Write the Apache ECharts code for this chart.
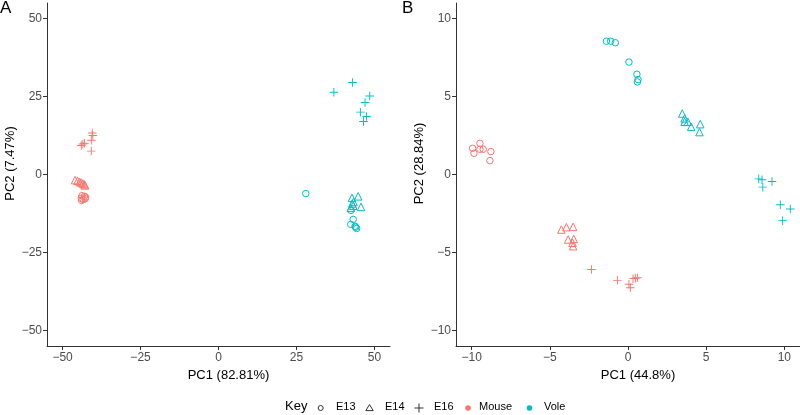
<!DOCTYPE html>
<html><head><meta charset="utf-8">
<script src="https://cdn.jsdelivr.net/npm/echarts@6/dist/echarts.min.js"></script>
<style>html,body{margin:0;padding:0;background:#fff}#c{width:800px;height:415px}</style>
</head><body><div id="c"></div>
<script>
// Tick labels
const ticksA = [-50, -25, 0, 25, 50];
const ticksB = [-10, -5, 0, 5, 10];
const titlesA = ['PC1 (82.81%)', 'PC2 (7.47%)'];
const titlesB = ['PC1 (44.8%)', 'PC2 (28.84%)'];
const stages = ['E13', 'E14', 'E16'];
const species = ['Mouse', 'Vole'];
const colors = {Mouse: '#F8766D', Vole: '#00BFC4'};

// Panel A data [PC1, PC2]
const A_Mouse_E13 = [[-43.8,-6.8],[-43.0,-7.0],[-42.6,-7.3],[-44.0,-7.6],[-43.4,-8.0],[-42.8,-7.8],[-43.9,-8.3]];
const A_Mouse_E14 = [[-46.0,-1.8],[-45.2,-2.0],[-44.5,-2.4],[-44.0,-2.6],[-43.5,-2.9],[-43.0,-3.2],[-42.8,-3.5]];
const A_Mouse_E16 = [[-40.5,13.3],[-40.3,12.5],[-40.8,11.0],[-43.5,9.8],[-44.0,9.3],[-43.0,10.0],[-40.8,7.5]];
const A_Vole_E13 = [[28.0,-6.1],[42.5,-11.5],[43.2,-14.4],[42.4,-16.0],[43.8,-16.6],[44.3,-17.3],[44.0,-16.9]];
const A_Vole_E14 = [[42.8,-7.5],[44.8,-7.0],[45.7,-10.4],[42.9,-9.3],[43.2,-10.0],[42.4,-10.7],[43.3,-8.8]];
const A_Vole_E16 = [[37.0,26.4],[43.0,29.5],[48.5,25.2],[47.0,23.1],[45.5,20.0],[47.5,18.6],[46.5,17.0]];

// Panel B data [PC1, PC2]
const B_Mouse_E13 = [[-9.94,1.68],[-9.85,1.36],[-9.47,2.0],[-9.47,1.62],[-9.26,1.62],[-8.77,1.47],[-8.83,0.89]];
const B_Mouse_E14 = [[-4.26,-3.53],[-3.94,-3.38],[-3.51,-3.36],[-3.83,-4.17],[-3.47,-4.13],[-3.55,-4.38],[-3.51,-4.6]];
const B_Mouse_E16 = [[-2.34,-6.09],[-0.68,-6.79],[0.06,-7.04],[0.15,-7.26],[0.32,-6.68],[0.47,-6.66],[0.6,-6.62]];
const B_Vole_E13 = [[-1.38,8.55],[-1.11,8.55],[-0.81,8.45],[0.06,7.21],[0.57,6.43],[0.64,6.09],[0.6,5.94]];
const B_Vole_E14 = [[3.47,3.91],[3.62,3.6],[3.62,3.38],[3.83,3.38],[4.04,3.06],[4.62,3.23],[4.57,2.72]];
const B_Vole_E16 = [[8.36,-0.28],[8.57,-0.34],[8.62,-0.81],[9.21,-0.45],[9.74,-1.94],[10.38,-2.21],[9.89,-2.96]];

const dataA = {Mouse: {E13: A_Mouse_E13, E14: A_Mouse_E14, E16: A_Mouse_E16}, Vole: {E13: A_Vole_E13, E14: A_Vole_E14, E16: A_Vole_E16}};
const dataB = {Mouse: {E13: B_Mouse_E13, E14: B_Mouse_E14, E16: B_Mouse_E16}, Vole: {E13: B_Vole_E13, E14: B_Vole_E14, E16: B_Vole_E16}};

const PLUS = 'path://M4.45,0H5.55V4.45H10V5.55H5.55V10H4.45V5.55H0V4.45H4.45Z';
const symbols = {E13: 'circle', E14: 'triangle', E16: PLUS};
const sizes = {E13: 6.5, E14: 7.5, E16: 8.5};
const FONT = 'Liberation Sans, Arial, sans-serif';
const minus = v => String(v).replace('-', '\u2212');

function xAxis(gi, lim, ticks, title) {
  return {
    type: 'value', gridIndex: gi, min: -lim, max: lim,
    name: title, nameLocation: 'middle', nameGap: 20,
    nameTextStyle: {color: '#000', fontSize: 13, fontFamily: FONT, padding: [0, 0, 0, 20]},
    axisLine: {show: true, onZero: false, lineStyle: {color: '#333', width: 1}},
    axisTick: {show: true, length: 4, lineStyle: {color: '#333'}, customValues: ticks},
    axisLabel: {color: '#4d4d4d', fontSize: 12, fontFamily: FONT, margin: 6, customValues: ticks, formatter: minus},
    splitLine: {show: false}
  };
}
function yAxis(gi, lim, ticks, title) {
  return {
    type: 'value', gridIndex: gi, min: -lim, max: lim,
    name: title, nameLocation: 'middle', nameGap: 30,
    nameTextStyle: {color: '#000', fontSize: 13, fontFamily: FONT, padding: [0, 0, 0, 22]},
    axisLine: {show: true, onZero: false, lineStyle: {color: '#333', width: 1}},
    axisTick: {show: true, length: 4, lineStyle: {color: '#333'}, customValues: ticks},
    axisLabel: {color: '#4d4d4d', fontSize: 12, fontFamily: FONT, margin: 5, customValues: ticks, formatter: minus},
    splitLine: {show: false}
  };
}

const series = [];
[[dataA, 0], [dataB, 1]].forEach(([d, gi]) => {
  species.forEach(sp => {
    stages.forEach(st => {
      const isPlus = st === 'E16';
      series.push({
        type: 'scatter', name: sp + ' ' + st, xAxisIndex: gi, yAxisIndex: gi,
        data: d[sp][st], symbol: symbols[st], symbolSize: sizes[st],
        itemStyle: isPlus
          ? {color: colors[sp], borderWidth: 0, opacity: 1}
          : {color: 'rgba(0,0,0,0)', borderColor: colors[sp], borderWidth: 1, opacity: 1},
        emphasis: {disabled: true}, silent: true
      });
    });
  });
});

// Legend drawn as graphic elements
const lgY = 408;
const lgText = (x, t, fs) => ({type: 'text', left: x, top: lgY - fs * 0.6, style: {text: t, fill: '#000', fontSize: fs, fontFamily: FONT}});
const graphic = [
  {type: 'text', left: 0, top: 0, style: {text: 'A', fill: '#000', fontSize: 17, fontFamily: FONT}},
  {type: 'text', left: 402, top: 0, style: {text: 'B', fill: '#000', fontSize: 17, fontFamily: FONT}},
  lgText(285, 'Key', 13),
  {type: 'circle', shape: {cx: 320.7, cy: lgY, r: 2.5}, style: {fill: 'none', stroke: '#333', lineWidth: 1}},
  lgText(336, stages[0], 11),
  {type: 'polygon', shape: {points: [[369.5, lgY - 3.5], [373.2, lgY + 2.6], [365.8, lgY + 2.6]]}, style: {fill: 'none', stroke: '#333', lineWidth: 1}},
  lgText(385, stages[1], 11),
  {type: 'rect', shape: {x: 414.5, y: lgY - 0.5, width: 9, height: 1}, style: {fill: '#333'}},
  {type: 'rect', shape: {x: 418.5, y: lgY - 4.5, width: 1, height: 9}, style: {fill: '#333'}},
  lgText(434, stages[2], 11),
  {type: 'circle', shape: {cx: 468, cy: lgY, r: 2.8}, style: {fill: colors.Mouse}},
  lgText(479, species[0], 11),
  {type: 'circle', shape: {cx: 529.5, cy: lgY, r: 2.8}, style: {fill: colors.Vole}},
  lgText(544, species[1], 11)
];

const chart = echarts.init(document.getElementById('c'), null, {renderer: 'canvas'});
chart.setOption({
  animation: false,
  backgroundColor: '#fff',
  grid: [
    {left: 47, right: 410, top: 3, bottom: 69, containLabel: false},
    {left: 456, right: 0, top: 3, bottom: 69, containLabel: false}
  ],
  xAxis: [xAxis(0, 55, ticksA, titlesA[0]), xAxis(1, 11, ticksB, titlesB[0])],
  yAxis: [yAxis(0, 55, ticksA, titlesA[1]), yAxis(1, 11, ticksB, titlesB[1])],
  series: series,
  graphic: graphic
});
</script>
</body></html>
